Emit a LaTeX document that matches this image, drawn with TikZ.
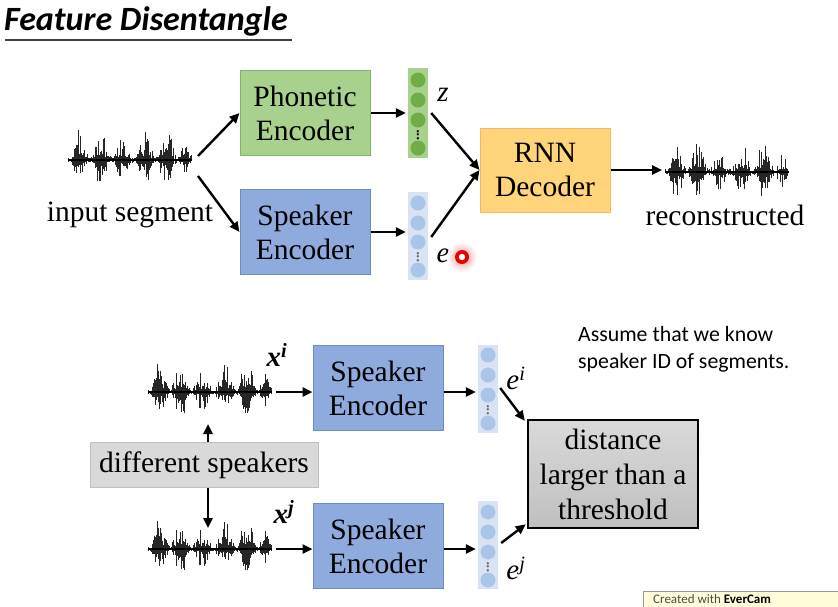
\documentclass[tikz,border=0pt]{standalone}
\usepackage{fontspec}
\setmainfont{Liberation Serif}
\newfontfamily\calfont{Carlito}
\usetikzlibrary{arrows.meta}
\definecolor{phfill}{HTML}{A9D18E}
\definecolor{phdraw}{HTML}{82B366}
\definecolor{spfill}{HTML}{8FAADC}
\definecolor{spdraw}{HTML}{6C8EBF}
\definecolor{rnnfill}{HTML}{FFD47A}
\definecolor{rnndraw}{HTML}{F4B860}
\definecolor{gvec}{HTML}{A9D18E}
\definecolor{gdot}{HTML}{70AD47}
\definecolor{bvec}{HTML}{DAE3F3}
\definecolor{bdot}{HTML}{A9C6E8}
\newcommand{\wavef}[3]{%
  \pgfmathsetseed{#3}%
  \foreach \i in {0,0.8,...,124}{%
    \pgfmathsetmacro\env{3+32*(abs(sin(\i*8.2)))^2*(0.45+0.55*abs(sin(\i*2.3+40)))*min(1,\i/10)*min(1,(124-\i)/8)}%
    \pgfmathsetmacro\up{\env*(0.15+0.85*rnd^1.6)}%
    \pgfmathsetmacro\dn{\env*0.85*(0.15+0.85*rnd^1.6)}%
    \draw[line width=0.9pt,black!85] ({#1+\i},{#2-\up}) -- ({#1+\i},{#2+\dn});
  }%
  \draw[line width=2.4pt] (#1,#2) -- ({#1+124},#2);
}
\begin{document}
\begin{tikzpicture}[x=1pt,y=-1pt,
  arr/.style={line width=2.4pt,-{Triangle[length=10pt,width=9pt]}},
  encbox/.style={draw,line width=1pt,minimum width=130pt,minimum height=85pt,align=center,inner sep=0pt,font=\fontsize{29.5}{34}\selectfont},
  vecbox/.style={minimum width=20pt,inner sep=0pt},
  vdots/.style={inner sep=0pt,font=\bfseries\fontsize{14}{14}\selectfont},
  lbl/.style={font=\fontsize{29}{30}\selectfont,inner sep=0pt},
  txt/.style={font=\fontsize{29.5}{35}\selectfont,inner sep=0pt,align=center}
  ]
\useasboundingbox (0,0) rectangle (838,606);
\fill[white] (0,0) rectangle (838,606);

% title
\node[anchor=west,inner sep=0pt,font=\calfont\bfseries\itshape\fontsize{34}{36}\selectfont] (title) at (4,21) {Feature Disentangle};
\draw[line width=1.5pt,black!75] (5,40) -- (292,40);

% ===== top part =====
\wavef{68}{160}{11}
\coordinate (win1) at (198,156);
\coordinate (win2) at (198,176);
\node[txt] (inlbl) at (130,215) {input segment};

\node[encbox,fill=phfill,draw=phdraw] (phon) at (305,113) {Phonetic\\Encoder};
\node[encbox,fill=spfill,draw=spdraw] (spk) at (305,232) {Speaker\\Encoder};

% z vector
\node[vecbox,fill=gvec,minimum height=90pt] (z) at (418,113) {};
\foreach \yy in {80,100,120,148} \fill[gdot] (418,\yy) circle (7.5);
\node[vdots] at (418,135) {\rotatebox{90}{...}};
% e vector
\node[vecbox,fill=bvec,minimum height=88pt] (e) at (418,236) {};
\foreach \yy in {203,223,242,270} \fill[bdot] (418,\yy) circle (7.5);
\node[vdots,text=black!60] at (418,257) {\rotatebox{90}{...}};

\node[lbl] (zl) at (443,95) {\textit{z}};
\node[lbl] (el) at (443,256) {\textit{e}};
% cursor highlight
\shade[inner color=red!45,outer color=white] (462,257) circle (15);
\fill[red!90!black] (462,257) circle (7);
\fill[white] (462,257) circle (3.2);

\node[encbox,fill=rnnfill,draw=rnndraw,minimum height=84pt] (rnn) at (545,170) {RNN\\Decoder};

\wavef{665}{172}{23}
\coordinate (wout) at (662,172);
\node[txt] (outlbl) at (725,215) {reconstructed};

\draw[arr] (win1) -- (phon.west);
\draw[arr] (win2) -- (spk.west);
\draw[arr] (phon.east) -- ([xshift=-2pt]z.west);
\draw[arr] (spk.east) -- ([xshift=-2pt]e.west|-spk.east);
\draw[arr] ([xshift=3pt]z.east) -- (rnn.west);
\draw[arr] ([xshift=3pt,yshift=-1pt]e.east) -- (rnn.west);
\draw[arr] (rnn.east) -- (wout|-rnn.east);

% ===== bottom part =====
\node[anchor=west,inner sep=0pt,align=left,font=\calfont\fontsize{21.8}{27}\selectfont] (note) at (578,349) {Assume that we know\\speaker ID of segments.};

\wavef{148}{392}{37}
\wavef{148}{549}{37}
\coordinate (wi) at (276,392);
\coordinate (wj) at (276,549);
\coordinate (wit) at (208,424);
\coordinate (wjt) at (208,528);
\node[lbl] (xi) at (277,355) {\textbf{\textit{x}}\textsuperscript{\textbf{\textit{i}}}};
\node[lbl] (xj) at (284,512) {\textbf{\textit{x}}\textsuperscript{\textbf{\textit{j}}}};

\node[txt,draw=black!25,fill=black!15,minimum width=228pt,minimum height=45pt] (ds) at (204,465) {different speakers};
\draw[arr] ([xshift=4pt]ds.north) -- (wit);
\draw[arr] ([xshift=4pt]ds.south) -- (wjt);

\node[encbox,fill=spfill,draw=spdraw] (spk2) at (378,388) {Speaker\\Encoder};
\node[encbox,fill=spfill,draw=spdraw] (spk3) at (378,546) {Speaker\\Encoder};

\node[vecbox,fill=bvec,minimum height=88pt] (ei) at (488,389) {};
\foreach \yy in {355,375,395,423} \fill[bdot] (488,\yy) circle (7.5);
\node[vdots,text=black!60] at (488,410) {\rotatebox{90}{...}};
\node[vecbox,fill=bvec,minimum height=88pt] (ej) at (488,545) {};
\foreach \yy in {512,532,552,580} \fill[bdot] (488,\yy) circle (7.5);
\node[vdots,text=black!60] at (488,567) {\rotatebox{90}{...}};

\node[lbl] (eil) at (516,378) {\textit{e}\textsuperscript{\textit{i}}};
\node[lbl] (ejl) at (516,568) {\textit{e}\textsuperscript{\textit{j}}};

\node[txt,draw=black,line width=2.5pt,top color=black!15,bottom color=black!25,minimum width=170pt,minimum height=108pt] (dist) at (613,474) {distance\\larger than a\\threshold};

\draw[arr] (wi) -- (spk2.west|-wi);
\draw[arr] (wj) -- (spk3.west|-wj);
\draw[arr] (spk2.east|-wi) -- ([xshift=-2pt]ei.west|-wi);
\draw[arr] (spk3.east|-wj) -- ([xshift=-2pt]ej.west|-wj);
\draw[arr] ([xshift=2pt,yshift=1pt]ei.east) -- ([xshift=-2pt,yshift=-2pt]dist.north west);
\draw[arr] ([xshift=3pt,yshift=2pt]ej.east) -- ([xshift=-1pt,yshift=5pt]dist.south west);

% watermark
\node[draw=black!40,fill=yellow!15,anchor=north west,minimum width=200pt,minimum height=22pt,inner sep=0pt] (wm) at (643,591) {};
\node[anchor=west,inner sep=0pt,font=\calfont\fontsize{13}{13}\selectfont,text=black!70] (wmt) at (653,599) {Created with \textbf{\textcolor{black}{EverCam}}};
\end{tikzpicture}
\end{document}
